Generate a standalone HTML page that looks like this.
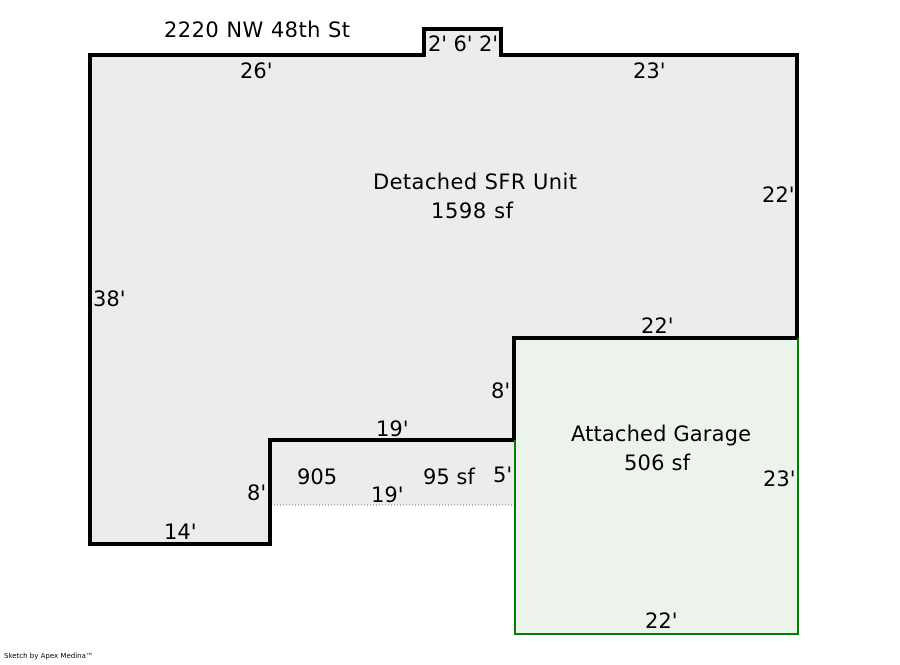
<!DOCTYPE html>
<html><head><meta charset="utf-8"><style>
body{margin:0;background:#fff;width:900px;height:660px;overflow:hidden}
svg text{font-family:"DejaVu Sans","Liberation Sans",sans-serif;font-size:21px;fill:#000}
</style></head><body>
<svg width="900" height="660" xmlns="http://www.w3.org/2000/svg">
<rect x="271" y="441" width="243" height="64" fill="#ececec"/>
<line x1="271" y1="505" x2="514" y2="505" stroke="#777" stroke-width="1" stroke-dasharray="1,2"/>
<polygon points="90,55 424,55 424,29 501,29 501,55 797,55 797,338 514,338 514,440 270,440 270,544 90,544" fill="#ececec" stroke="#000" stroke-width="4"/>
<rect x="515" y="339" width="283" height="295" fill="#ebf3eb" stroke="#008000" stroke-width="2"/>
<line x1="514" y1="338" x2="797" y2="338" stroke="#000" stroke-width="4"/>
<line x1="514" y1="338" x2="514" y2="440" stroke="#000" stroke-width="4"/>
<text x="164" y="37" textLength="186">2220 NW 48th St</text>
<text x="428" y="51" textLength="70">2' 6' 2'</text>
<text x="240" y="78">26'</text>
<text x="633" y="78">23'</text>
<text x="373" y="189" textLength="204">Detached SFR Unit</text>
<text x="431" y="218" textLength="82">1598 sf</text>
<text x="762" y="202">22'</text>
<text x="93" y="306">38'</text>
<text x="641" y="333">22'</text>
<text x="491" y="398">8'</text>
<text x="376" y="436">19'</text>
<text x="571" y="441" textLength="180">Attached Garage</text>
<text x="624" y="470" textLength="66">506 sf</text>
<text x="297" y="484">905</text>
<text x="423" y="484">95 sf</text>
<text x="493" y="482">5'</text>
<text x="763" y="486">23'</text>
<text x="371" y="502">19'</text>
<text x="247" y="500">8'</text>
<text x="164" y="539">14'</text>
<text x="645" y="628">22'</text>
<text x="4" y="658" style="font-size:7px">Sketch by Apex Medina™</text>
</svg>
</body></html>
